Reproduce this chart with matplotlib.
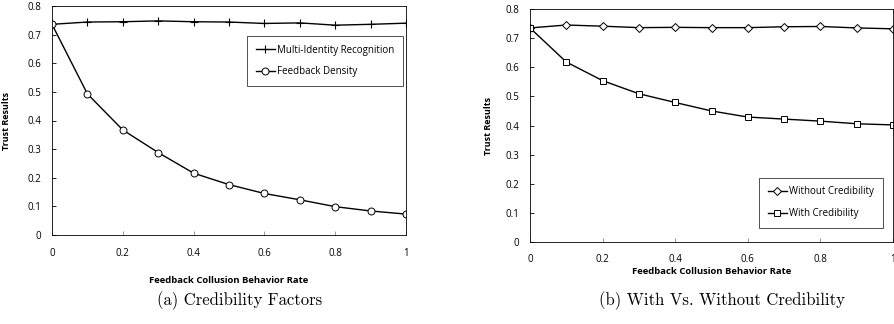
import numpy as np
import matplotlib
matplotlib.use("Agg")
import matplotlib.pyplot as plt

# -------------------------
# Data
# -------------------------

rate = [0, 0.1, 0.2, 0.3, 0.4, 0.5, 0.6, 0.7, 0.8, 0.9, 1.0]

multi_identity = [0.736, 0.744, 0.745, 0.748, 0.745, 0.744, 0.739, 0.741, 0.733, 0.736, 0.740]
feedback_density = [0.736, 0.493, 0.367, 0.288, 0.216, 0.176, 0.145, 0.123, 0.099, 0.084, 0.073]

without_cred = [0.735, 0.745, 0.741, 0.736, 0.737, 0.736, 0.736, 0.739, 0.740, 0.735, 0.732]
with_cred = [0.735, 0.618, 0.554, 0.509, 0.479, 0.450, 0.429, 0.422, 0.415, 0.406, 0.402]

x_ticks = [0, 0.2, 0.4, 0.6, 0.8, 1]
x_ticklabels = ["0", "0.2", "0.4", "0.6", "0.8", "1"]
y_ticks = [0, 0.1, 0.2, 0.3, 0.4, 0.5, 0.6, 0.7, 0.8]
y_ticklabels = ["0", "0.1", "0.2", "0.3", "0.4", "0.5", "0.6", "0.7", "0.8"]

FONT = "Open Sans"
W, H = 895, 324

fig = plt.figure(figsize=(W / 100, H / 100), dpi=100)


def setup_axes(ax):
    ax.set_xlim(0, 1)
    ax.set_ylim(0, 0.8)
    ax.set_xticks(x_ticks)
    ax.set_xticklabels(x_ticklabels, fontsize=7, family=FONT)
    ax.set_yticks(y_ticks)
    ax.set_yticklabels(y_ticklabels, fontsize=7, family=FONT)
    ax.tick_params(axis="x", direction="in", length=3, width=0.6,
                   color="#888888", pad=9)
    ax.tick_params(axis="y", direction="in", length=3, width=0.6, pad=8)
    for s in ax.spines.values():
        s.set_linewidth(0.6)
    ax.set_ylabel("Trust Results", fontsize=6.5, family=FONT, fontweight="bold")


# -------------------------
# (a) Credibility Factors
# -------------------------

ax1 = fig.add_axes([52 / W, 1 - 235 / H, (406 - 52) / W, (235 - 6) / H])
ax1.plot(rate, multi_identity, color="black", lw=1.0, marker="+",
         ms=6, mew=0.8, label="Multi-Identity Recognition")
ax1.plot(rate, feedback_density, color="black", lw=1.0, marker="o",
         ms=5, mfc="white", mec="black", mew=0.7, label="Feedback Density")
setup_axes(ax1)
ax1.set_xlabel("Feedback Collusion Behavior Rate", fontsize=6.8, family=FONT,
               fontweight="bold")
ax1.xaxis.set_label_coords((229 - 52) / (406 - 52), -(276 - 235) / (235 - 6))
ax1.yaxis.set_label_coords(-(52 - 11) / (406 - 52), 0.5)
leg1 = ax1.legend(loc="upper right", bbox_to_anchor=(1.005, 0.89),
                  prop={"family": FONT, "size": 7}, frameon=True,
                  fancybox=False, edgecolor="black", handlelength=2.0,
                  borderpad=0.9, labelspacing=1.1, handletextpad=0.2)
leg1.get_frame().set_linewidth(0.6)

# -------------------------
# (b) With Vs. Without Credibility
# -------------------------

ax2 = fig.add_axes([530 / W, 1 - 242 / H, (893 - 530) / W, (242 - 9) / H])
ax2.plot(rate, without_cred, color="black", lw=1.0, marker="D",
         ms=4, mfc="white", mec="black", mew=0.7, label="Without Credibility")
ax2.plot(rate, with_cred, color="black", lw=1.0, marker="s",
         ms=5, mfc="white", mec="black", mew=0.7, label="With Credibility")
setup_axes(ax2)
ax2.set_xlabel("Feedback Collusion Behavior Rate", fontsize=6.8, family=FONT,
               fontweight="bold")
ax2.xaxis.set_label_coords((712 - 530) / (893 - 530), -(267 - 242) / (242 - 9))
ax2.yaxis.set_label_coords(-(530 - 493) / (893 - 530), 0.5)
leg2 = ax2.legend(loc="lower right", bbox_to_anchor=(0.985, 0.04),
                  prop={"family": FONT, "size": 7}, frameon=True,
                  fancybox=False, edgecolor="black", handlelength=2.0,
                  borderpad=0.9, labelspacing=1.1, handletextpad=0.2)
leg2.get_frame().set_linewidth(0.6)

# -------------------------
# Captions
# -------------------------

fig.text(240 / W, 1 - 301 / H, "(a) Credibility Factors", ha="center",
         va="center", fontsize=12, family="cmr10")
fig.text(722 / W, 1 - 301 / H, "(b) With Vs. Without Credibility", ha="center",
         va="center", fontsize=12, family="cmr10")

fig.savefig("out.png", dpi=100)
plt.close()
